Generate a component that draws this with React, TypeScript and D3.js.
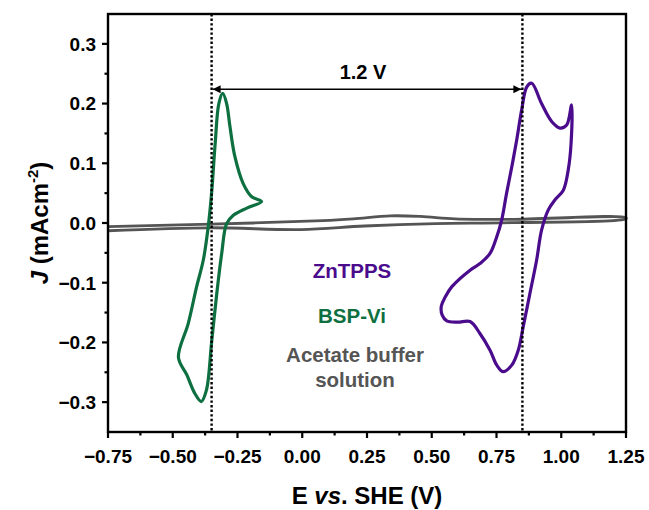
import React from 'react';
import * as d3 from 'd3';

// [E vs SHE (V), J (mA cm^-2)]
const bspVi: [number, number][] = [
  [-0.157, 0.036], [-0.195, 0.044], [-0.228, 0.066], [-0.26, 0.111], [-0.279, 0.161],
  [-0.292, 0.2], [-0.307, 0.217], [-0.322, 0.2], [-0.336, 0.134], [-0.35, 0.05],
  [-0.363, -0.006], [-0.382, -0.062], [-0.408, -0.107], [-0.44, -0.168], [-0.478, -0.225],
  [-0.446, -0.254], [-0.414, -0.286], [-0.39, -0.299], [-0.37, -0.28], [-0.35, -0.2],
  [-0.33, -0.118], [-0.311, -0.051], [-0.292, -0.001], [-0.266, 0.013], [-0.214, 0.025],
];

const znTpps: [number, number][] = [
  [0.886, 0.234], [0.924, 0.2], [0.963, 0.17], [0.995, 0.159], [1.021, 0.164],
  [1.04, 0.198], [1.038, 0.134], [1.027, 0.089], [1.008, 0.055], [0.976, 0.039],
  [0.95, 0.022], [0.924, -0.012], [0.905, -0.062], [0.879, -0.118], [0.853, -0.174],
  [0.834, -0.213], [0.809, -0.238], [0.776, -0.249], [0.751, -0.238], [0.725, -0.213],
  [0.686, -0.185], [0.648, -0.165], [0.6, -0.166], [0.558, -0.164], [0.54, -0.154],
  [0.537, -0.139], [0.552, -0.124], [0.577, -0.107], [0.648, -0.079], [0.686, -0.068],
  [0.725, -0.051], [0.751, -0.023], [0.77, 0.005], [0.789, 0.05], [0.809, 0.094],
  [0.828, 0.139], [0.847, 0.189], [0.867, 0.228],
];

const acetateUpper: [number, number][] = [
  [-0.75, -0.006], [-0.354, -0.002], [0.08, 0.004], [0.197, 0.007], [0.34, 0.012],
  [0.457, 0.011], [0.59, 0.007], [0.806, 0.006], [1.25, 0.009],
];
const acetateLower: [number, number][] = [
  [1.25, 0.007], [0.806, 0.0005], [0.515, -0.001], [0.24, -0.005], [-0.006, -0.011],
  [-0.354, -0.008], [-0.75, -0.013],
];

const xTicks = [-0.75, -0.5, -0.25, 0, 0.25, 0.5, 0.75, 1.0, 1.25];
const yTicks = [-0.3, -0.2, -0.1, 0.0, 0.1, 0.2, 0.3];
const markers = [-0.35, 0.85];

const GREEN = '#0e7040';
const PURPLE = '#4a0b8c';
const GRAY = '#555555';
const FONT = '"Liberation Sans", Arial, sans-serif';

export default function App() {
  const left = 108, right = 626, top = 14, bottom = 432;
  const x = d3.scaleLinear().domain([-0.75, 1.25]).range([left, right]);
  const y = d3.scaleLinear().domain([-0.35, 0.35]).range([bottom, top]);

  const loop = d3.line<[number, number]>()
    .x(d => x(d[0])).y(d => y(d[1]))
    .curve(d3.curveCatmullRomClosed.alpha(0.5));
  const open = d3.line<[number, number]>()
    .x(d => x(d[0])).y(d => y(d[1]))
    .curve(d3.curveCatmullRom.alpha(0.5));

  const xMinor = xTicks.slice(0, -1).map(v => v + 0.125);
  const yMinor = yTicks.map(v => v + 0.05).concat([-0.35 + 0.0]).filter(v => v > -0.34 && v < 0.34);
  const arrowY = y(0.224);

  return (
    <svg width={649} height={510} style={{ position: 'absolute', left: 0, top: 0, background: '#fff' }}
      fontFamily={FONT}>
      <defs>
        <marker id="ah" viewBox="0 0 10 10" refX="10" refY="5" markerWidth="11" markerHeight="8"
          markerUnits="userSpaceOnUse" orient="auto-start-reverse">
          <path d="M0,0 L10,5 L0,10 z" fill="#000" />
        </marker>
      </defs>

      {/* acetate buffer baseline */}
      <path d={open(acetateUpper.concat(acetateLower)) || ''} fill="none" stroke={GRAY} strokeWidth={2.8} />

      <path d={loop(bspVi) || ''} fill="none" stroke={GREEN} strokeWidth={3.2} strokeLinejoin="round" />
      <path d={loop(znTpps) || ''} fill="none" stroke={PURPLE} strokeWidth={3.2} strokeLinejoin="round" />

      {markers.map(m => (
        <line key={m} x1={x(m)} x2={x(m)} y1={top} y2={bottom} stroke="#000" strokeWidth={2.4}
          strokeDasharray="2.4,2.2" />
      ))}
      <line x1={x(markers[0]) + 1} x2={x(markers[1]) - 1} y1={arrowY} y2={arrowY} stroke="#000"
        strokeWidth={1.5} markerStart="url(#ah)" markerEnd="url(#ah)" />
      <text x={(x(markers[0]) + x(markers[1])) / 2 - 4} y={79} textAnchor="middle" fontSize={20}
        fontWeight="bold">1.2 V</text>

      {/* frame */}
      <rect x={left} y={top} width={right - left} height={bottom - top} fill="none" stroke="#000" strokeWidth={2.4} />

      {xTicks.map(v => (
        <g key={'x' + v}>
          <line x1={x(v)} x2={x(v)} y1={bottom} y2={bottom + 6} stroke="#000" strokeWidth={2.2} />
          <text x={x(v)} y={463} textAnchor="middle" fontSize={19} fontWeight="bold">
            {d3.format('.2f')(v)}
          </text>
        </g>
      ))}
      {xMinor.map(v => (
        <line key={'xm' + v} x1={x(v)} x2={x(v)} y1={bottom} y2={bottom + 3.5} stroke="#000" strokeWidth={2.2} />
      ))}
      {yTicks.map(v => (
        <g key={'y' + v}>
          <line x1={left - 6} x2={left} y1={y(v)} y2={y(v)} stroke="#000" strokeWidth={2.2} />
          <text x={left - 12} y={y(v)} dy="0.36em" textAnchor="end" fontSize={19} fontWeight="bold">
            {d3.format('.1f')(v)}
          </text>
        </g>
      ))}
      {yMinor.map(v => (
        <line key={'ym' + v} x1={left - 3.5} x2={left} y1={y(v)} y2={y(v)} stroke="#000" strokeWidth={2.2} />
      ))}

      <text transform={`translate(48,${(top + bottom) / 2}) rotate(-90)`} textAnchor="middle"
        fontSize={24} fontWeight="bold">
        <tspan fontStyle="italic">J</tspan> (mAcm<tspan dy="-10" fontSize={15}>-2</tspan><tspan dy="10">)</tspan>
      </text>
      <text x={(left + right) / 2} y={504} textAnchor="middle" fontSize={24} fontWeight="bold">
        E <tspan fontStyle="italic">vs</tspan>. SHE (V)
      </text>

      <g fontWeight="bold" fontSize={20.5} textAnchor="middle">
        <text x={352} y={278} fill={PURPLE}>ZnTPPS</text>
        <text x={352} y={323} fill={GREEN}>BSP-Vi</text>
        <text x={355} y={362} fill={GRAY}>Acetate buffer</text>
        <text x={355} y={387} fill={GRAY}>solution</text>
      </g>
    </svg>
  );
}
